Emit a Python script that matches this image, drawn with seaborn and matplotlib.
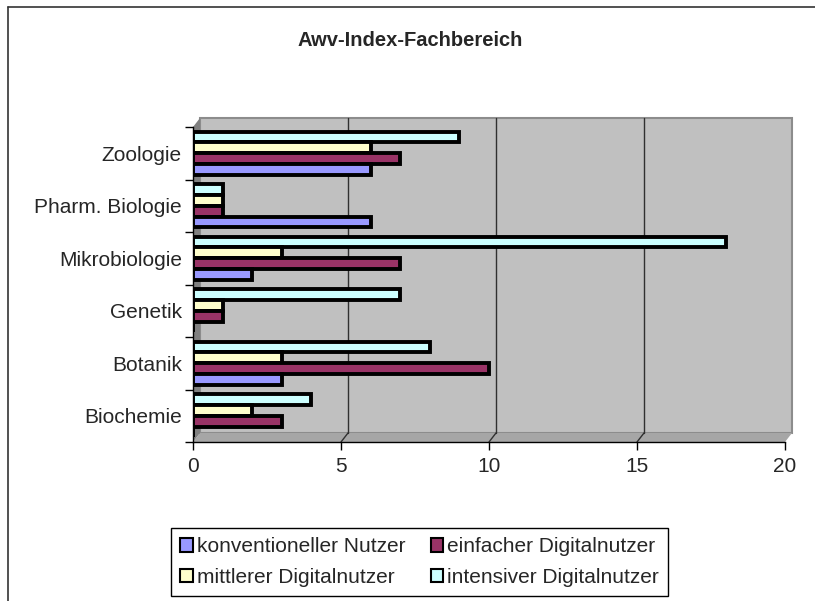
import matplotlib
matplotlib.use("Agg")
import matplotlib.pyplot as plt
import matplotlib.transforms as mtrans
from matplotlib.patches import Rectangle, Polygon, Patch
from matplotlib.lines import Line2D
import seaborn as sns
import pandas as pd

categories = ["Zoologie", "Pharm. Biologie", "Mikrobiologie", "Genetik", "Botanik", "Biochemie"]
series_names = ["konventioneller Nutzer", "einfacher Digitalnutzer",
                "mittlerer Digitalnutzer", "intensiver Digitalnutzer"]
konventionell = [6, 6, 2, 0, 3, 0]
einfach = [7, 1, 7, 1, 10, 3]
mittel = [6, 1, 3, 1, 3, 2]
intensiv = [9, 1, 18, 7, 8, 4]
x_ticks = [0, 5, 10, 15, 20]
colors = {"konventioneller Nutzer": "#9999FF", "einfacher Digitalnutzer": "#993366",
          "mittlerer Digitalnutzer": "#FFFFCC", "intensiver Digitalnutzer": "#CCFFFF"}

rows = []
for name, vals in zip(series_names, [konventionell, einfach, mittel, intensiv]):
    for c, v in zip(categories, vals):
        rows.append({"Fachbereich": c, "Typ": name, "Wert": v})
df = pd.DataFrame(rows)

sns.set_style("white")
plt.rcParams['font.family'] = ['Liberation Sans', 'DejaVu Sans']

W, H = 815, 601
fig = plt.figure(figsize=(W / 100, H / 100), dpi=100)
ax = fig.add_axes([193 / W, 1 - 442 / H, 592 / W, 315 / H])
ax.set_facecolor("none")

hue_order = series_names[::-1]  # top-to-bottom within group
sns.barplot(data=df, x="Wert", y="Fachbereich", hue="Typ", order=categories,
            hue_order=hue_order, palette=colors, orient="h", width=0.82,
            edgecolor="black", linewidth=2.8, saturation=1, legend=False, ax=ax, zorder=3)

ax.set_xlim(0, 20)
ax.set_ylim(5.5, -0.5)

# 3D-style back wall, floor and side wall
dx, dy = 7 / 592, 9 / 315
ax.add_patch(Rectangle((dx, dy), 1, 1, transform=ax.transAxes, facecolor="#C0C0C0",
                       edgecolor="#8C8C8C", lw=1.5, zorder=0, clip_on=False))
ax.add_patch(Polygon([(0, 0), (1, 0), (1 + dx, dy), (dx, dy)], closed=True, transform=ax.transAxes,
                     facecolor="#A6A6A6", edgecolor="none", zorder=0.5, clip_on=False))
ax.add_patch(Polygon([(0, 0), (dx, dy), (dx, 1 + dy), (0, 1)], closed=True, transform=ax.transAxes,
                     facecolor="#808080", edgecolor="none", zorder=0.5, clip_on=False))
gtrans = ax.get_xaxis_transform() + mtrans.ScaledTranslation(7 / 100, 0, fig.dpi_scale_trans)
for xv in x_ticks[1:-1]:
    ax.add_line(Line2D([xv, xv], [dy, 1 + dy], transform=gtrans, color="#303030", lw=1,
                       zorder=1, clip_on=False))
    ax.add_line(Line2D([xv, xv + dx * 20], [0, dy], transform=ax.get_xaxis_transform(),
                       color="#303030", lw=1, zorder=1, clip_on=False))

# axes / ticks
for s in ["top", "right"]:
    ax.spines[s].set_visible(False)
for s in ["left", "bottom"]:
    ax.spines[s].set_color("black")
    ax.spines[s].set_linewidth(1)
    ax.spines[s].set_zorder(4)
ax.set_xticks(x_ticks)
ax.set_xticklabels([str(t) for t in x_ticks], fontsize=15)
ax.set_yticks([i - 0.5 for i in range(len(categories) + 1)])
ax.set_yticklabels([])
ax.set_yticks(range(len(categories)), minor=True)
ax.set_yticklabels(categories, minor=True, fontsize=15)
ax.tick_params(axis="y", which="major", direction="out", length=6, width=1, color="black", left=True)
ax.tick_params(axis="y", which="minor", length=0, pad=8)
ax.tick_params(axis="x", direction="out", length=6, width=1, color="black", bottom=True, pad=5)
ax.set_xlabel("")
ax.set_ylabel("")

fig.text(410 / W, 1 - 41 / H, "Awv-Index-Fachbereich", ha="center", va="center",
         fontsize=14.5, fontweight="bold")

# outer chart border (left and top visible)
fig.add_artist(Line2D([8 / W, 8 / W], [0, 1 - 7 / H], transform=fig.transFigure, color="#333333", lw=1.2))
fig.add_artist(Line2D([8 / W, 1], [1 - 7 / H, 1 - 7 / H], transform=fig.transFigure, color="#333333", lw=1.2))

handles = [Patch(facecolor=colors[n], edgecolor="black", lw=1.5, label=n)
           for n in ["konventioneller Nutzer", "mittlerer Digitalnutzer",
                     "einfacher Digitalnutzer", "intensiver Digitalnutzer"]]
leg = fig.legend(handles=handles, ncol=2, loc="upper left",
                 bbox_to_anchor=(171 / W, 1 - 528 / H), fontsize=15, frameon=True,
                 fancybox=False, edgecolor="black", framealpha=1, borderpad=0.45,
                 handlelength=0.6, handleheight=0.6, handletextpad=0.2, columnspacing=1.2,
                 labelspacing=0.55, borderaxespad=0)
leg.get_frame().set_linewidth(1)

fig.savefig("out.png", dpi=100)
